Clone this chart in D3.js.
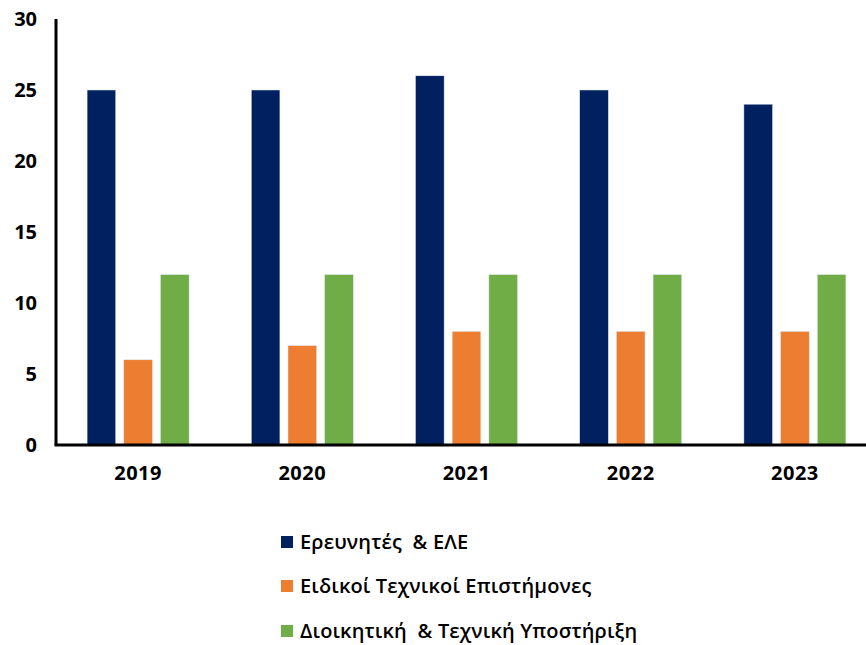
<!DOCTYPE html>
<html><head><meta charset="utf-8">
<script src="https://cdn.jsdelivr.net/npm/d3@7"></script>
<style>body{margin:0;background:#fff;} svg{display:block;}</style>
</head><body>
<svg id="c" width="866" height="645"></svg>
<script>
const years = ["2019","2020","2021","2022","2023"];
const seriesNames = ["Ερευνητές  & ΕΛΕ","Ειδικοί Τεχνικοί Επιστήμονες","Διοικητική  & Τεχνική Υποστήριξη"];
const researchers = [25,25,26,25,24];
const specialists = [6,7,8,8,8];
const admin = [12,12,12,12,12];
const colors = ["#002060","#ED7D31","#70AD47"];
const yTicks = [0,5,10,15,20,25,30];

const series = [researchers, specialists, admin];
const svg = d3.select("#c");
const x0 = 56, x1 = 877, y0 = 445, yTop = 19;
const x = d3.scaleBand().domain(years).range([x0, x1]).paddingInner(0).paddingOuter(0);
const y = d3.scaleLinear().domain([0,30]).range([y0, yTop]);
const xs = d3.scaleBand().domain([0,1,2]).range([0, 102]).paddingInner(0.22);

const g = svg.append("g");
years.forEach((yr, i) => {
  const gx = x(yr) + x.bandwidth()/2 - 51;
  series.forEach((s, k) => {
    g.append("rect")
      .attr("x", gx + xs(k)).attr("width", xs.bandwidth())
      .attr("y", y(s[i])).attr("height", y(0) - y(s[i]))
      .attr("fill", colors[k]).attr("stroke", "#dfe6f0").attr("stroke-width", 0.5);
  });
});

const font = "'Open Sans', sans-serif";
// y axis
const yAxis = d3.axisLeft(y).tickValues(yTicks).tickSize(0).tickPadding(19);
const ya = svg.append("g").attr("transform", `translate(${x0},0)`).call(yAxis);
ya.select(".domain").attr("stroke", "#000").attr("stroke-width", 3).attr("d", `M0,${y0}V${yTop}`);
ya.selectAll("text").attr("font-family",font).attr("font-weight","bold").attr("font-size","20px").attr("fill","#000");

// x axis
const xAxis = d3.axisBottom(x).tickSize(0).tickPadding(21);
const xa = svg.append("g").attr("transform", `translate(0,${y0})`).call(xAxis);
xa.select(".domain").attr("stroke", "#000").attr("stroke-width", 3).attr("d", `M${x0-1.5},0H866`);
xa.selectAll("text").attr("font-family",font).attr("font-weight","bold").attr("font-size","20px").attr("fill","#000").attr("letter-spacing","0.5px");

// legend
const leg = svg.append("g");
const legY = [542, 586, 631];
seriesNames.forEach((n, k) => {
  leg.append("rect").attr("x", 281).attr("y", legY[k]-6).attr("width", 12).attr("height", 12).attr("fill", colors[k]);
  leg.append("text").attr("x", 300).attr("y", legY[k]).attr("dy", "0.35em")
    .attr("font-family",font).attr("font-weight", 600).attr("font-size","20px").attr("fill","#000")
    .attr("letter-spacing","0.15px")
    .style("white-space","pre").text(n);
});
</script>
</body></html>
